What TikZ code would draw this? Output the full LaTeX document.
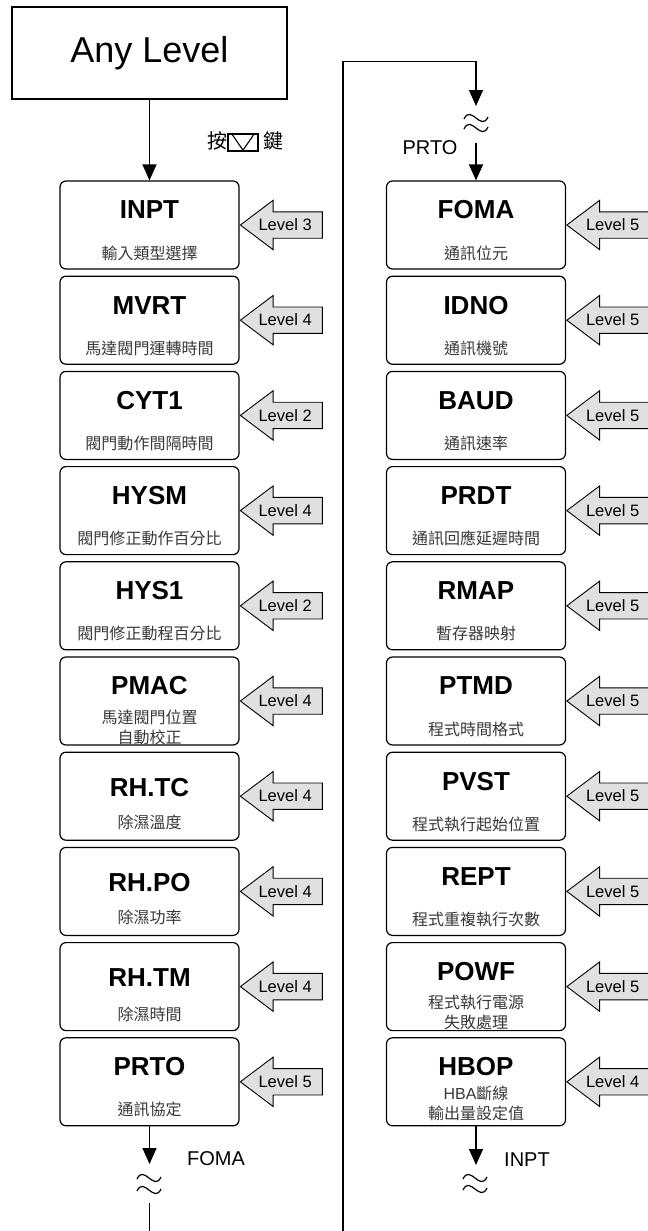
\documentclass[tikz,border=0pt]{standalone}
\usepackage{fontspec}
\setmainfont{Liberation Sans}
\newfontfamily\cjk{Noto Sans CJK TC}
\usetikzlibrary{arrows.meta,shapes.arrows}

\tikzset{
  parbox/.style={draw, rounded corners=6bp, line width=1.2bp,
    minimum width=179bp, minimum height=88bp},
  ptitle/.style={font=\bfseries\fontsize{26bp}{28bp}\selectfont, inner sep=0pt},
  psub/.style={font=\cjk\fontsize{16bp}{20bp}\selectfont, text=black!78,
    align=center, inner sep=0pt},
  lvl/.style={single arrow, shape border rotate=180, draw, line width=0.9bp,
    fill=black!12, minimum height=82bp, single arrow head extend=11.5bp,
    single arrow tip angle=74, inner xsep=1bp, inner ysep=7bp,
    text height=11.5bp, text depth=0pt, font=\fontsize{16.5bp}{16.5bp}\selectfont,
    execute at begin node=\hspace*{-10bp}, anchor=tip},
  flow/.style={line width=1.3bp, -{Triangle[length=16bp,width=14bp]}},
  brk/.style={line width=1.2bp},
  lbl/.style={font=\fontsize{20bp}{20bp}\selectfont, inner sep=0pt}
}

\begin{document}
\begin{tikzpicture}[x=1bp,y=-1bp]
  \useasboundingbox (0,0) rectangle (648,1231);
  % start
  \node[draw, line width=1.1bp, minimum width=275bp, minimum height=92bp,
    font=\fontsize{36bp}{36bp}\selectfont] (any) at (149.5,53) {Any Level};
  \node[font=\cjk\fontsize{20bp}{20bp}\selectfont, inner sep=0pt] (kp) at (217,141) {按};
  \node[draw, line width=1.3bp, minimum width=30bp, minimum height=17bp,
    inner sep=0pt] (key) at (243,142.5) {};
  \draw[line width=1.1bp] ([xshift=4bp]key.north west) -- ([yshift=1.5bp]key.south)
    -- ([xshift=-4bp]key.north east);
  \node[font=\cjk\fontsize{20bp}{20bp}\selectfont, inner sep=0pt] (kk) at (273,141) {鍵};

  % left column
  \node[parbox] (inpt) at (149.5,225) {};
  \node[ptitle] (inpt-t) at (149.5,210) {INPT};
  \node[psub] (inpt-s) at (149.5,253) {輸入類型選擇};
  \node[lvl] (inpt-l) at (inpt.east) {Level 3};

  \node[parbox] (mvrt) at (149.5,320.2) {};
  \node[ptitle] (mvrt-t) at (149.5,305.2) {MVRT};
  \node[psub] (mvrt-s) at (149.5,348.2) {馬達閥門運轉時間};
  \node[lvl] (mvrt-l) at (mvrt.east) {Level 4};

  \node[parbox] (cyt1) at (149.5,415.4) {};
  \node[ptitle] (cyt1-t) at (149.5,400.4) {CYT1};
  \node[psub] (cyt1-s) at (149.5,443.4) {閥門動作間隔時間};
  \node[lvl] (cyt1-l) at (cyt1.east) {Level 2};

  \node[parbox] (hysm) at (149.5,510.6) {};
  \node[ptitle] (hysm-t) at (149.5,495.6) {HYSM};
  \node[psub] (hysm-s) at (149.5,538.6) {閥門修正動作百分比};
  \node[lvl] (hysm-l) at (hysm.east) {Level 4};

  \node[parbox] (hys1) at (149.5,605.8) {};
  \node[ptitle] (hys1-t) at (149.5,590.8) {HYS1};
  \node[psub] (hys1-s) at (149.5,633.8) {閥門修正動程百分比};
  \node[lvl] (hys1-l) at (hys1.east) {Level 2};

  \node[parbox] (pmac) at (149.5,701) {};
  \node[ptitle] (pmac-t) at (149.5,686) {PMAC};
  \node[psub] (pmac-s) at (149.5,727) {馬達閥門位置\\自動校正};
  \node[lvl] (pmac-l) at (pmac.east) {Level 4};

  \node[parbox] (rhtc) at (149.5,796.2) {};
  \node[ptitle] (rhtc-t) at (149.5,787.2) {RH.TC};
  \node[psub] (rhtc-s) at (149.5,822.2) {除濕溫度};
  \node[lvl] (rhtc-l) at (rhtc.east) {Level 4};

  \node[parbox] (rhpo) at (149.5,891.4) {};
  \node[ptitle] (rhpo-t) at (149.5,882.4) {RH.PO};
  \node[psub] (rhpo-s) at (149.5,917.4) {除濕功率};
  \node[lvl] (rhpo-l) at (rhpo.east) {Level 4};

  \node[parbox] (rhtm) at (149.5,986.6) {};
  \node[ptitle] (rhtm-t) at (149.5,977.6) {RH.TM};
  \node[psub] (rhtm-s) at (149.5,1014.6) {除濕時間};
  \node[lvl] (rhtm-l) at (rhtm.east) {Level 4};

  \node[parbox] (prto) at (149.5,1081.8) {};
  \node[ptitle] (prto-t) at (149.5,1066.8) {PRTO};
  \node[psub] (prto-s) at (149.5,1109.8) {通訊協定};
  \node[lvl] (prto-l) at (prto.east) {Level 5};

  % right column
  \node[parbox] (foma) at (476,225) {};
  \node[ptitle] (foma-t) at (476,210) {FOMA};
  \node[psub] (foma-s) at (476,253) {通訊位元};
  \node[lvl, minimum height=84bp] (foma-l) at (foma.east) {Level 5};

  \node[parbox] (idno) at (476,320.2) {};
  \node[ptitle] (idno-t) at (476,305.2) {IDNO};
  \node[psub] (idno-s) at (476,348.2) {通訊機號};
  \node[lvl, minimum height=84bp] (idno-l) at (idno.east) {Level 5};

  \node[parbox] (baud) at (476,415.4) {};
  \node[ptitle] (baud-t) at (476,400.4) {BAUD};
  \node[psub] (baud-s) at (476,443.4) {通訊速率};
  \node[lvl, minimum height=84bp] (baud-l) at (baud.east) {Level 5};

  \node[parbox] (prdt) at (476,510.6) {};
  \node[ptitle] (prdt-t) at (476,495.6) {PRDT};
  \node[psub] (prdt-s) at (476,538.6) {通訊回應延遲時間};
  \node[lvl, minimum height=84bp] (prdt-l) at (prdt.east) {Level 5};

  \node[parbox] (rmap) at (476,605.8) {};
  \node[ptitle] (rmap-t) at (476,590.8) {RMAP};
  \node[psub] (rmap-s) at (476,633.8) {暫存器映射};
  \node[lvl, minimum height=84bp] (rmap-l) at (rmap.east) {Level 5};

  \node[parbox] (ptmd) at (476,701) {};
  \node[ptitle] (ptmd-t) at (476,686) {PTMD};
  \node[psub] (ptmd-s) at (476,729) {程式時間格式};
  \node[lvl, minimum height=84bp] (ptmd-l) at (ptmd.east) {Level 5};

  \node[parbox] (pvst) at (476,796.2) {};
  \node[ptitle] (pvst-t) at (476,781.2) {PVST};
  \node[psub] (pvst-s) at (476,824.2) {程式執行起始位置};
  \node[lvl, minimum height=84bp] (pvst-l) at (pvst.east) {Level 5};

  \node[parbox] (rept) at (476,891.4) {};
  \node[ptitle] (rept-t) at (476,876.4) {REPT};
  \node[psub] (rept-s) at (476,919.4) {程式重複執行次數};
  \node[lvl, minimum height=84bp] (rept-l) at (rept.east) {Level 5};

  \node[parbox] (powf) at (476,986.6) {};
  \node[ptitle] (powf-t) at (476,971.6) {POWF};
  \node[psub] (powf-s) at (476,1012.6) {程式執行電源\\失敗處理};
  \node[lvl, minimum height=84bp] (powf-l) at (powf.east) {Level 5};

  \node[parbox] (hbop) at (476,1081.8) {};
  \node[ptitle] (hbop-t) at (476,1066.8) {HBOP};
  \node[psub] (hbop-s) at (476,1103.8) {{\rmfamily HBA}斷線\\輸出量設定值};
  \node[lvl, minimum height=84bp] (hbop-l) at (hbop.east) {Level 4};

  % connectors
  \draw[flow] (any) -- (inpt);
  \coordinate (lbrk) at (149.5,1164);
  \draw[flow] (prto) -- (lbrk);
  \node[lbl] (to-foma) at (216,1159) {FOMA};
  \draw[brk] (137,1179) .. controls (144,1164) and (154,1192) .. (161,1177);
  \draw[brk] (137,1191) .. controls (144,1176) and (154,1204) .. (161,1189);
  \coordinate (lcont) at (149.5,1203);
  \coordinate (lend) at (149.5,1231);
  \draw[line width=1.3bp] (lcont) -- (lend);

  \coordinate (rbot) at (343,1231);
  \coordinate (rcorner) at (343,61.5);
  \coordinate (rtop) at (476,61.5);
  \coordinate (rbrk) at (476,106);
  \draw[flow] (rbot) -- (rcorner) -- (rtop) -- (rbrk);
  \draw[brk] (464,119) .. controls (471,104) and (481,132) .. (488,117);
  \draw[brk] (464,129) .. controls (471,114) and (481,142) .. (488,127);
  \node[lbl] (from-prto) at (430,148) {PRTO};
  \coordinate (rin) at (476,143);
  \draw[flow] (rin) -- (foma);

  \coordinate (rend) at (476,1165);
  \draw[flow] (hbop) -- (rend);
  \node[lbl] (to-inpt) at (527,1160) {INPT};
  \draw[brk] (463,1179) .. controls (470,1164) and (480,1192) .. (487,1177);
  \draw[brk] (463,1190) .. controls (470,1175) and (480,1203) .. (487,1188);
\end{tikzpicture}
\end{document}
